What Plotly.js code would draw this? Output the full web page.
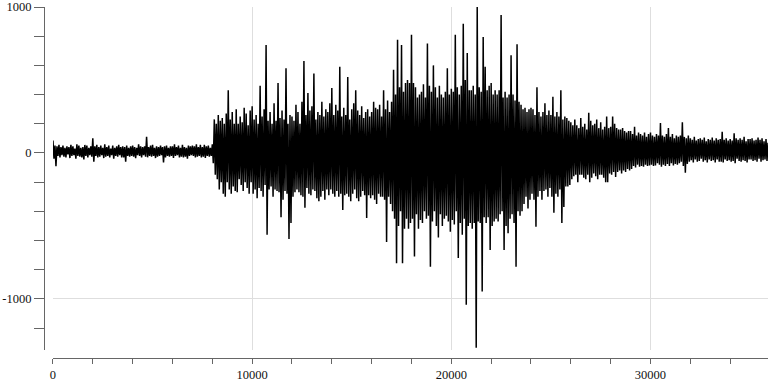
<!DOCTYPE html>
<html>
<head>
<meta charset="utf-8">
<script src="https://cdn.plot.ly/plotly-3.0.1.min.js"></script>
<style>html,body{margin:0;padding:0;background:#fff}#chart{width:768px;height:384px}</style>
</head>
<body>
<div id="chart"></div>
<script>
// one value every 50 samples
const sampleStep = 50;
const quietPart = [
  85, -40, 50, -90, 45, -20, 55, -30, 40, -15,
  50, -25, 35, -30, 45, -10, 40, -35, 55, -20,
  45, -15, 30, -40, 60, -20, 50, -25, 35, -30,
  40, -45, 55, -20, 50, -30, 35, -15, 45, -25,
  100, -60, 45, -20, 55, -30, 40, -25, 50, -15,
  35, -35, 60, -25, 40, -20, 50, -30, 30, -15,
  50, -40, 35, -20, 45, -25, 55, -15, 40, -30,
  45, -30, 40, -60, 50, -20, 35, -25, 45, -20,
  50, -25, 40, -35, 35, -15, 60, -20, 45, -30,
  40, -15, 45, -25, 110, -30, 40, -20, 50, -25,
  55, -20, 35, -35, 45, -25, 40, -20, 50, -15,
  40, -65, 45, -30, 50, -20, 35, -25, 45, -20,
  45, -35, 60, -20, 40, -15, 50, -30, 35, -25,
  55, -30, 40, -25, 35, -40, 50, -20, 45, -15,
  50, -20, 45, -30, 60, -25, 40, -20, 55, -30,
  40, -25, 55, -35, 45, -20, 50, -25, 35, -20
];
const onsetPart = [
  60, -70, 230, -150, 200, -180, 260, -250, 220, -200,
  240, -280, 200, -300, 270, -200, 430, -250, 230, -280,
  280, -230, 200, -260, 300, -270, 200, -180, 250, -220,
  210, -260, 310, -200, 270, -240, 190, -280, 290, -200,
  320, -280, 230, -250, 260, -310, 200, -240, 460, -260,
  250, -300, 300, -220, 740, -560, 220, -250, 280, -230,
  200, -300, 340, -250, 220, -260, 480, -270, 240, -440,
  290, -320, 230, -260, 580, -280, 200, -590, 260, -480,
  250, -300, 220, -270, 330, -250, 280, -270, 200, -290,
  350, -300, 630, -375, 260, -240, 410, -280, 290, -290,
  320, -250, 545, -260, 230, -310, 280, -330, 260, -300,
  350, -260, 250, -320, 300, -250, 280, -290, 340, -250,
  445, -280, 260, -300, 330, -260, 290, -300, 590, -280,
  250, -390, 310, -290, 260, -280, 520, -300, 230, -330
];
const buildPart = [
  300, -280, 340, -250, 430, -310, 290, -330, 260, -300,
  320, -260, 240, -290, 280, -445, 300, -290, 250, -310,
  280, -290, 350, -320, 310, -350, 300, -280, 330, -300,
  250, -300, 430, -320, 300, -610, 360, -300, 280, -350,
  350, -400, 570, -450, 400, -755, 775, -500, 450, -400,
  740, -755, 420, -520, 480, -450, 500, -520, 480, -480
];
const strongPart = [
  810, -450, 480, -710, 450, -420, 380, -520, 400, -460,
  420, -480, 470, -400, 380, -450, 750, -430, 460, -780,
  420, -470, 600, -400, 450, -500, 380, -580, 460, -420,
  400, -500, 380, -450, 420, -430, 580, -470, 400, -540,
  440, -460, 420, -490, 810, -400, 450, -720, 400, -480,
  460, -560, 885, -450, 500, -1040, 685, -500, 430, -480,
  430, -520, 460, -480, 400, -1335, 1000, -470, 450, -480,
  420, -950, 795, -440, 590, -480, 430, -440, 460, -665,
  480, -500, 400, -470, 430, -450, 400, -470, 430, -420,
  945, -400, 380, -665, 420, -500, 380, -550, 400, -450,
  670, -420, 400, -480, 360, -780, 745, -400, 350, -430
];
const decayPart = [
  330, -400, 300, -350, 310, -300, 280, -380, 300, -320,
  310, -280, 300, -320, 260, -505, 450, -300, 280, -260,
  250, -320, 280, -260, 340, -250, 260, -300, 290, -240,
  260, -300, 385, -410, 250, -280, 280, -300, 250, -250,
  430, -480, 230, -370, 250, -230, 240, -230, 220, -220,
  210, -180, 190, -160, 230, -150, 190, -200, 170, -150,
  240, -150, 180, -170, 200, -180, 160, -150, 275, -200,
  220, -170, 190, -140, 200, -160, 230, -180, 170, -150,
  210, -150, 160, -170, 180, -200, 250, -200, 170, -140,
  180, -150, 250, -130, 200, -165, 170, -130, 160, -120,
  160, -140, 170, -120, 150, -130, 140, -110, 150, -120
];
const codaPart = [
  150, -110, 130, -90, 180, -100, 120, -80, 140, -95,
  130, -90, 120, -95, 140, -80, 110, -90, 130, -85,
  140, -80, 120, -90, 110, -85, 130, -70, 120, -80,
  205, -95, 120, -80, 110, -90, 130, -75, 170, -90,
  110, -70, 130, -85, 100, -75, 120, -80, 110, -70,
  120, -60, 210, -90, 110, -135, 100, -75, 120, -60,
  100, -50, 90, -65, 110, -45, 85, -60, 95, -55,
  100, -40, 90, -60, 105, -50, 80, -65, 95, -45,
  90, -55, 105, -50, 85, -65, 100, -45, 90, -60,
  95, -60, 145, -65, 90, -45, 100, -55, 85, -50,
  95, -60, 85, -55, 135, -70, 100, -40, 90, -55,
  100, -60, 90, -50, 110, -55, 80, -65, 95, -45,
  95, -45, 100, -55, 85, -50, 90, -60, 105, -40,
  90, -60, 100, -50, 80, -45, 95, -55, 70
];
const yTickVals = [-1000, 0, 1000];
const yTickText = ['-1000', '0', '1000'];
const xTickVals = [0, 10000, 20000, 30000];
const xTickText = ['0', '10000', '20000', '30000'];

const amplitude = [].concat(quietPart, onsetPart, buildPart, strongPart, decayPart, codaPart);
const sampleIndex = amplitude.map((_, i) => i * sampleStep);

const fontFam = 'Liberation Serif';
const data = [{
  type: 'scatter', mode: 'lines',
  x: sampleIndex, y: amplitude,
  line: {color: '#000', width: 1.5, simplify: false},
  hoverinfo: 'skip'
}];
const layout = {
  width: 768, height: 384,
  margin: {l: 44, r: 0, t: 7, b: 26},
  paper_bgcolor: '#fff', plot_bgcolor: '#fff',
  showlegend: false,
  font: {family: fontFam, size: 12.5, color: '#111'},
  xaxis: {
    domain: [0.0124, 1],
    anchor: 'free', position: 0,
    range: [0, 35900],
    tickmode: 'array', tickvals: xTickVals, ticktext: xTickText,
    ticks: 'outside', ticklen: 5, tickwidth: 1, tickcolor: '#666',
    showline: true, linecolor: '#666', linewidth: 1,
    showgrid: true, gridcolor: '#dedede', gridwidth: 1,
    zeroline: false,
    minor: {dtick: 2000, tick0: 0, ticks: 'outside', ticklen: 5, tickcolor: '#666', showgrid: false},
    tickfont: {family: fontFam, size: 12.5, color: '#111'}
  },
  yaxis: {
    domain: [0.0228, 1],
    anchor: 'free', position: 0,
    range: [-1350, 1000],
    tickmode: 'array', tickvals: yTickVals, ticktext: yTickText,
    ticks: 'outside', ticklen: 10, tickwidth: 1, tickcolor: '#666',
    showline: true, linecolor: '#666', linewidth: 1,
    showgrid: true, gridcolor: '#dedede', gridwidth: 1,
    zeroline: false,
    minor: {dtick: 200, tick0: 0, ticks: 'outside', ticklen: 10, tickcolor: '#666', showgrid: false},
    tickfont: {family: fontFam, size: 12.5, color: '#111'}
  }
};
Plotly.newPlot('chart', data, layout, {displayModeBar: false, staticPlot: true});
</script>
</body>
</html>
